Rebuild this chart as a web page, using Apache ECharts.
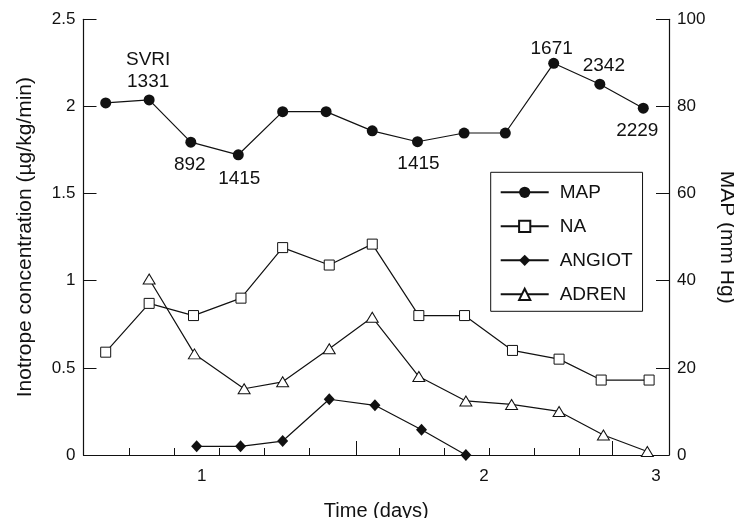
<!DOCTYPE html>
<html>
<head>
<meta charset="utf-8">
<script src="https://cdn.jsdelivr.net/npm/echarts@6/dist/echarts.min.js"></script>
<style>html,body{margin:0;padding:0;background:#fff}#c{width:734px;height:518px}</style>
</head>
<body>
<div id="c"></div>
<script>
// x positions are in "time slot" units (the original time axis is non-linear)
const mapX    = [0, 0.97, 1.90, 2.96, 3.95, 4.92, 5.95, 6.96, 8.00, 8.92, 10.0, 11.03, 12.0];
const mapY    = [80.8, 81.5, 71.8, 68.9, 78.8, 78.8, 74.4, 71.9, 73.9, 73.9, 89.9, 85.1, 79.6];
const svriLabels = ['', 'SVRI\n1331', '892', '1415', '', '', '', '1415', '', '', '1671', '2342', '2229'];

const naX     = [0, 0.97, 1.96, 3.02, 3.95, 4.99, 5.95, 6.99, 8.01, 9.08, 10.12, 11.06, 12.13];
const naY     = [0.59, 0.87, 0.80, 0.90, 1.19, 1.09, 1.21, 0.80, 0.80, 0.60, 0.55, 0.43, 0.43];

const angiotX = [2.03, 3.01, 3.95, 4.99, 6.01, 7.05, 8.04];
const angiotY = [0.05, 0.05, 0.08, 0.32, 0.285, 0.145, 0.0];

const adrenX  = [0.97, 1.98, 3.09, 3.95, 4.99, 5.95, 6.99, 8.04, 9.06, 10.12, 11.11, 12.09];
const adrenY  = [1.01, 0.58, 0.38, 0.42, 0.61, 0.79, 0.45, 0.31, 0.29, 0.25, 0.115, 0.02];

const dayLabelPos  = [2.143, 8.444, 12.283];
const dayLabelText = ['1', '2', '3'];
const minorTickPos = [0.527, 1.531, 2.536, 3.540, 4.545, 6.554, 7.558, 8.563, 9.567, 10.572];
const majorTickPos = [5.587, 11.308];

const FONT = 'Liberation Sans, Arial, Helvetica, sans-serif';
const INK = '#111';

// label placement for the SVRI annotations (styling, not data)
const labelPlace = {
  1: {position: 'top', distance: 2, offset: [-1, 0]},
  2: {position: 'bottom', distance: 6, offset: [-1, 0]},
  3: {position: 'bottom', distance: 7, offset: [1, 0]},
  7: {position: 'bottom', distance: 6, offset: [1, 0]},
  10: {position: 'top', distance: 0, offset: [-2, 2]},
  11: {position: 'top', distance: 2, offset: [4, 0]},
  12: {position: 'bottom', distance: 6, offset: [-6, 0]}
};

const zip = (xs, ys) => xs.map((x, i) => [x, ys[i]]);

const mapData = mapX.map((x, i) => {
  const item = {value: [x, mapY[i]]};
  if (svriLabels[i]) {
    const p = labelPlace[i] || {position: 'top', distance: 5};
    item.label = Object.assign({
      show: true,
      formatter: svriLabels[i],
      fontSize: 19,
      lineHeight: 22,
      color: INK,
      fontFamily: FONT
    }, p);
  }
  return item;
});

const xMin = -0.4955, xMax = 12.574;

const lineCommon = {
  type: 'line',
  lineStyle: {color: INK, width: 1.2},
  emphasis: {disabled: true},
  animation: false,
  z: 3
};

const chart = echarts.init(document.getElementById('c'));
chart.setOption({
  backgroundColor: '#fff',
  animation: false,
  textStyle: {fontFamily: FONT, color: INK},
  grid: {left: 83.5, right: 65, top: 19.3, bottom: 63, containLabel: false, outerBoundsMode: 'none'},
  legend: {
    orient: 'vertical',
    left: 490.7,
    top: 172.3,
    padding: [10, 10, 7, 9],
    itemWidth: 48,
    itemHeight: 14,
    itemGap: 14,
    borderColor: INK,
    borderWidth: 1,
    selectedMode: false,
    backgroundColor: '#fff',
    textStyle: {fontSize: 19, lineHeight: 20, color: INK, fontFamily: FONT, padding: [0, 0, 0, 6]},
    data: ['MAP', 'NA', 'ANGIOT', 'ADREN']
  },
  xAxis: [
    {
      type: 'value',
      min: xMin, max: xMax,
      name: 'Time (days)',
      nameLocation: 'middle',
      nameGap: 46,
      nameTextStyle: {fontSize: 20, color: INK, fontFamily: FONT},
      axisLine: {show: true, onZero: false, lineStyle: {color: INK, width: 1.2}},
      axisTick: {show: true, inside: true, length: 7, customValues: minorTickPos, lineStyle: {color: INK, width: 1}},
      axisLabel: {
        show: true, margin: 13, fontSize: 17, color: INK, fontFamily: FONT,
        customValues: dayLabelPos,
        formatter: function (v) {
          for (let i = 0; i < dayLabelPos.length; i++) {
            if (Math.abs(dayLabelPos[i] - v) < 1e-6) return dayLabelText[i];
          }
          return '';
        }
      },
      splitLine: {show: false}
    },
    {
      type: 'value',
      min: xMin, max: xMax,
      position: 'bottom',
      axisLine: {show: false, onZero: false},
      axisTick: {show: true, inside: true, length: 14, customValues: majorTickPos, lineStyle: {color: INK, width: 1}},
      axisLabel: {show: false},
      splitLine: {show: false}
    }
  ],
  yAxis: [
    {
      type: 'value',
      min: 0, max: 2.5, interval: 0.5,
      name: 'Inotrope concentration (µg/kg/min)',
      nameLocation: 'middle',
      nameGap: 48,
      nameTextStyle: {fontSize: 21, color: INK, fontFamily: FONT},
      axisLine: {show: true, onZero: false, lineStyle: {color: INK, width: 1.2}},
      axisTick: {show: true, inside: true, length: 13, lineStyle: {color: INK, width: 1}},
      axisLabel: {margin: 8, fontSize: 17, color: INK, fontFamily: FONT},
      splitLine: {show: false}
    },
    {
      type: 'value',
      min: 0, max: 100, interval: 20,
      position: 'right',
      name: 'MAP (mm Hg)',
      nameLocation: 'middle',
      nameRotate: -90,
      nameGap: 40,
      nameTextStyle: {fontSize: 21, color: INK, fontFamily: FONT},
      axisLine: {show: true, onZero: false, lineStyle: {color: INK, width: 1.2}},
      axisTick: {show: true, inside: true, length: 13, lineStyle: {color: INK, width: 1}},
      axisLabel: {margin: 8, fontSize: 17, color: INK, fontFamily: FONT},
      splitLine: {show: false}
    }
  ],
  series: [
    Object.assign({}, lineCommon, {
      name: 'MAP',
      yAxisIndex: 1,
      data: mapData,
      symbol: 'circle',
      symbolSize: 11,
      itemStyle: {color: INK, borderColor: INK, borderWidth: 0}
    }),
    Object.assign({}, lineCommon, {
      name: 'NA',
      yAxisIndex: 0,
      data: zip(naX, naY),
      symbol: 'rect',
      symbolSize: 10,
      itemStyle: {color: '#fff', borderColor: INK, borderWidth: 1}
    }),
    Object.assign({}, lineCommon, {
      name: 'ANGIOT',
      yAxisIndex: 0,
      data: zip(angiotX, angiotY),
      symbol: 'diamond',
      symbolSize: [11, 12],
      itemStyle: {color: INK, borderColor: INK, borderWidth: 0}
    }),
    Object.assign({}, lineCommon, {
      name: 'ADREN',
      yAxisIndex: 0,
      data: zip(adrenX, adrenY),
      symbol: 'triangle',
      symbolSize: [12, 10],
      itemStyle: {color: '#fff', borderColor: INK, borderWidth: 1}
    })
  ]
});
</script>
</body>
</html>
